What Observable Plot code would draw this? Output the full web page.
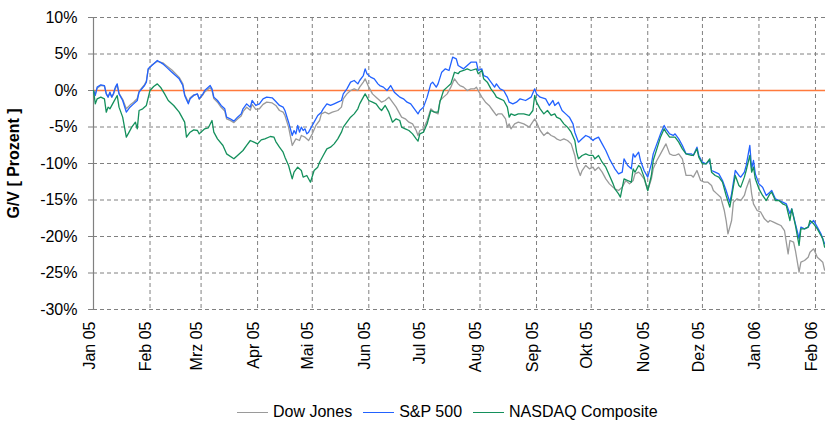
<!DOCTYPE html>
<html>
<head>
<meta charset="utf-8">
<script src="https://cdn.jsdelivr.net/npm/d3@7"></script>
<script src="https://cdn.jsdelivr.net/npm/@observablehq/plot@0.6"></script>
<style>
  body { margin: 0; background: #fff; font-family: "Liberation Sans", Arial, sans-serif; }
  #legend { display: flex; align-items: center; height: 20px; margin-top: 17px; padding-left: 237px; font-size: 16px; color: #000; }
  .sw { display: inline-block; width: 31px; height: 0; border-top: 1.5px solid; margin-right: 5px; }
  .it { display: flex; align-items: center; margin-right: 11px; }
</style>
</head>
<body>
<div id="chart"></div>
<div id="legend"></div>
<script>
const seriesNames = ["Dow Jones", "S&P 500", "NASDAQ Composite"];
const seriesColors = ["#9a9a9a", "#2262ff", "#14905c"];

const monthTicks = ["2005-01-01","2005-02-01","2005-03-01","2005-04-01","2005-05-01","2005-06-01","2005-07-01","2005-08-01","2005-09-01","2005-10-01","2005-11-01","2005-12-01","2006-01-01","2006-02-01"];
const monthLabels = ["Jan 05","Feb 05","Mrz 05","Apr 05","Mai 05","Jun 05","Jul 05","Aug 05","Sep 05","Okt 05","Nov 05","Dez 05","Jan 06","Feb 06"];
const yTicks = [-30, -25, -20, -15, -10, -5, 0, 5, 10];
const yLabel = "G/V [ Prozent ]";

const dowJones = [["2005-01-01",0],["2005-01-02",-0.5],["2005-01-03",0.3],["2005-01-05",0.7],["2005-01-07",0.6],["2005-01-08",-0.4],["2005-01-09",-0.9],["2005-01-10",-0.3],["2005-01-11",-0.9],["2005-01-12",-0.5],["2005-01-13",0.3],["2005-01-14",0.7],["2005-01-15",-0.4],["2005-01-17",-1.2],["2005-01-19",-2.5],["2005-01-21",-2.0],["2005-01-23",-1.6],["2005-01-25",-1.1],["2005-01-26",-0.1],["2005-01-29",0.8],["2005-01-30",1.3],["2005-01-31",2.9],["2005-02-02",3.5],["2005-02-05",4.0],["2005-02-08",3.8],["2005-02-10",3.4],["2005-02-13",2.8],["2005-02-15",2.3],["2005-02-17",1.8],["2005-02-19",0.9],["2005-02-20",-0.5],["2005-02-22",-1.6],["2005-02-23",-1.0],["2005-02-25",-0.6],["2005-02-27",-0.5],["2005-02-28",-1.2],["2005-03-02",-0.6],["2005-03-03",-0.2],["2005-03-06",0.4],["2005-03-07",0],["2005-03-08",-1.1],["2005-03-10",-1.6],["2005-03-12",-2.3],["2005-03-14",-2.8],["2005-03-15",-3.9],["2005-03-17",-4.1],["2005-03-19",-4.4],["2005-03-21",-3.9],["2005-03-23",-3.5],["2005-03-24",-2.9],["2005-03-26",-2.3],["2005-03-28",-2.7],["2005-03-29",-1.9],["2005-03-31",-2.6],["2005-04-02",-2.5],["2005-04-04",-1.9],["2005-04-06",-1.6],["2005-04-09",-1.7],["2005-04-11",-2.05],["2005-04-13",-2.74],["2005-04-15",-2.97],["2005-04-16",-3.42],["2005-04-18",-5.02],["2005-04-20",-7.53],["2005-04-22",-6.62],["2005-04-24",-6.85],["2005-04-25",-6.16],["2005-04-27",-6.39],["2005-04-29",-6.85],["2005-05-01",-5.94],["2005-05-03",-4.79],["2005-05-05",-4.11],["2005-05-06",-3.20],["2005-05-08",-2.97],["2005-05-10",-3.20],["2005-05-12",-2.97],["2005-05-15",-2.74],["2005-05-17",-2.28],["2005-05-18",-1.14],["2005-05-20",-0.46],["2005-05-22",0],["2005-05-24",0.23],["2005-05-26",0],["2005-05-27",0.46],["2005-05-29",1.14],["2005-05-30",1.60],["2005-06-01",0.46],["2005-06-03",-0.46],["2005-06-05",-0.91],["2005-06-07",-1.37],["2005-06-08",-1.60],["2005-06-10",-1.37],["2005-06-12",-0.91],["2005-06-14",-1.60],["2005-06-16",-2.28],["2005-06-18",-3.20],["2005-06-19",-3.65],["2005-06-21",-3.88],["2005-06-23",-4.34],["2005-06-25",-4.57],["2005-06-27",-5.48],["2005-06-28",-6.16],["2005-06-29",-5.48],["2005-07-01",-5.25],["2005-07-03",-4.11],["2005-07-05",-2.51],["2005-07-07",-2.97],["2005-07-09",-3.20],["2005-07-10",-1.37],["2005-07-12",-0.91],["2005-07-14",-0.46],["2005-07-16",0.46],["2005-07-18",1.60],["2005-07-20",0.91],["2005-07-21",0.68],["2005-07-23",0.46],["2005-07-25",0],["2005-07-27",0.23],["2005-07-29",0.23],["2005-07-30",0.46],["2005-07-31",0],["2005-08-02",-0.91],["2005-08-04",-1.60],["2005-08-06",-2.05],["2005-08-08",-2.74],["2005-08-10",-3.42],["2005-08-11",-3.20],["2005-08-13",-3.20],["2005-08-15",-3.88],["2005-08-16",-5.02],["2005-08-17",-4.57],["2005-08-18",-5.25],["2005-08-20",-4.57],["2005-08-22",-4.34],["2005-08-25",-4.57],["2005-08-28",-5.02],["2005-08-31",-3.88],["2005-09-01",-4.34],["2005-09-03",-5.48],["2005-09-05",-6.16],["2005-09-07",-5.71],["2005-09-09",-6.16],["2005-09-11",-6.39],["2005-09-12",-6.62],["2005-09-14",-6.85],["2005-09-16",-6.62],["2005-09-18",-6.85],["2005-09-20",-7.31],["2005-09-22",-8.90],["2005-09-23",-10.27],["2005-09-25",-11.64],["2005-09-26",-10.96],["2005-09-28",-10.27],["2005-09-30",-10.73],["2005-10-02",-10.50],["2005-10-03",-10.96],["2005-10-05",-10.50],["2005-10-07",-11.19],["2005-10-09",-12.10],["2005-10-11",-12.79],["2005-10-13",-13.24],["2005-10-14",-13.47],["2005-10-16",-13.70],["2005-10-18",-13.24],["2005-10-20",-12.33],["2005-10-22",-12.79],["2005-10-24",-12.33],["2005-10-25",-11.42],["2005-10-27",-11.19],["2005-10-28",-11.42],["2005-10-30",-12.10],["2005-11-01",-13.70],["2005-11-03",-12.10],["2005-11-04",-10.73],["2005-11-06",-9.59],["2005-11-08",-8.68],["2005-11-10",-7.76],["2005-11-11",-7.31],["2005-11-13",-8.68],["2005-11-15",-8.90],["2005-11-16",-8.90],["2005-11-18",-8.68],["2005-11-20",-9.36],["2005-11-22",-11.64],["2005-11-25",-11.64],["2005-11-26",-11.87],["2005-11-28",-10.96],["2005-11-30",-12.33],["2005-12-02",-12.56],["2005-12-04",-12.56],["2005-12-06",-13.01],["2005-12-07",-13.70],["2005-12-09",-14.16],["2005-12-11",-14.61],["2005-12-13",-16.44],["2005-12-14",-17.81],["2005-12-15",-19.63],["2005-12-17",-17.81],["2005-12-18",-15.30],["2005-12-20",-14.84],["2005-12-22",-15.07],["2005-12-24",-14.38],["2005-12-25",-13.47],["2005-12-27",-12.10],["2005-12-28",-14.16],["2005-12-29",-15.53],["2005-12-31",-16.44],["2006-01-02",-16.67],["2006-01-04",-17.58],["2006-01-06",-18.04],["2006-01-07",-17.81],["2006-01-09",-18.04],["2006-01-11",-18.26],["2006-01-13",-18.49],["2006-01-15",-19.18],["2006-01-17",-22.37],["2006-01-18",-20.55],["2006-01-20",-20.78],["2006-01-21",-21.92],["2006-01-23",-24.89],["2006-01-24",-23.52],["2006-01-26",-23.29],["2006-01-28",-22.83],["2006-01-29",-22.15],["2006-01-31",-21.69],["2006-02-02",-22.83],["2006-02-04",-23.29],["2006-02-05",-23.52],["2006-02-06",-24.6]];

const sp500 = [["2005-01-01",0],["2005-01-02",-0.68],["2005-01-03",0.46],["2005-01-05",0.78],["2005-01-07",0.68],["2005-01-08",-0.46],["2005-01-09",-0.91],["2005-01-10",-0.23],["2005-01-11",-0.91],["2005-01-12",-0.37],["2005-01-13",0.46],["2005-01-14",0.91],["2005-01-15",-0.46],["2005-01-17",-1.37],["2005-01-19",-2.97],["2005-01-21",-2.28],["2005-01-23",-1.83],["2005-01-25",-1.37],["2005-01-26",-0.23],["2005-01-29",0.68],["2005-01-30",1.14],["2005-01-31",2.97],["2005-02-02",3.42],["2005-02-05",4.11],["2005-02-08",3.65],["2005-02-10",3.20],["2005-02-13",2.51],["2005-02-15",2.05],["2005-02-17",1.60],["2005-02-19",0.68],["2005-02-20",-0.68],["2005-02-22",-1.83],["2005-02-23",-1.14],["2005-02-25",-0.68],["2005-02-27",-0.46],["2005-02-28",-1.14],["2005-03-02",-0.46],["2005-03-03",0],["2005-03-06",0.68],["2005-03-07",0.23],["2005-03-08",-0.91],["2005-03-10",-1.37],["2005-03-12",-2.05],["2005-03-14",-2.51],["2005-03-15",-3.65],["2005-03-17",-3.88],["2005-03-19",-4.20],["2005-03-21",-3.65],["2005-03-23",-3.20],["2005-03-24",-2.51],["2005-03-26",-1.83],["2005-03-28",-2.28],["2005-03-29",-1.37],["2005-03-31",-2.05],["2005-04-02",-1.83],["2005-04-04",-1.14],["2005-04-06",-0.91],["2005-04-09",-1.00],["2005-04-11",-1.50],["2005-04-13",-2.05],["2005-04-15",-2.28],["2005-04-16",-2.74],["2005-04-18",-4.34],["2005-04-20",-6.16],["2005-04-21",-5.48],["2005-04-22",-5.94],["2005-04-23",-4.79],["2005-04-24",-5.71],["2005-04-25",-5.02],["2005-04-26",-5.48],["2005-04-27",-5.25],["2005-04-28",-5.94],["2005-04-29",-5.71],["2005-05-01",-4.79],["2005-05-02",-4.34],["2005-05-04",-3.42],["2005-05-06",-2.97],["2005-05-07",-2.51],["2005-05-09",-1.83],["2005-05-11",-2.05],["2005-05-13",-1.83],["2005-05-15",-1.60],["2005-05-17",-1.37],["2005-05-18",-0.46],["2005-05-20",0.23],["2005-05-22",1.14],["2005-05-24",1.37],["2005-05-26",0.91],["2005-05-27",1.37],["2005-05-29",2.05],["2005-05-30",2.97],["2005-05-31",2.28],["2005-06-02",1.83],["2005-06-04",1.60],["2005-06-06",0.91],["2005-06-07",0.68],["2005-06-09",0.46],["2005-06-11",0],["2005-06-13",0.68],["2005-06-15",-0.23],["2005-06-17",-0.68],["2005-06-18",-0.91],["2005-06-20",-1.14],["2005-06-22",-1.60],["2005-06-24",-1.83],["2005-06-26",-2.51],["2005-06-28",-3.20],["2005-06-29",-2.74],["2005-07-01",-2.28],["2005-07-03",-0.91],["2005-07-05",0.91],["2005-07-06",1.14],["2005-07-08",0.46],["2005-07-09",0.91],["2005-07-11",2.51],["2005-07-13",2.97],["2005-07-15",2.74],["2005-07-17",4.57],["2005-07-19",4.34],["2005-07-20",3.42],["2005-07-23",2.97],["2005-07-25",3.42],["2005-07-27",3.88],["2005-07-30",3.88],["2005-07-31",2.74],["2005-08-02",2.97],["2005-08-03",2.05],["2005-08-05",1.83],["2005-08-07",1.14],["2005-08-09",0.46],["2005-08-10",0.91],["2005-08-12",0.23],["2005-08-14",0],["2005-08-16",-0.91],["2005-08-17",-1.60],["2005-08-19",-1.83],["2005-08-21",-1.60],["2005-08-23",-1.14],["2005-08-26",-1.37],["2005-08-29",-0.91],["2005-08-31",0.23],["2005-09-01",-0.46],["2005-09-03",-0.91],["2005-09-06",-1.14],["2005-09-08",-2.05],["2005-09-10",-1.37],["2005-09-11",-2.05],["2005-09-13",-1.60],["2005-09-15",-2.74],["2005-09-17",-3.20],["2005-09-19",-3.65],["2005-09-21",-4.57],["2005-09-22",-5.71],["2005-09-24",-7.08],["2005-09-26",-6.62],["2005-09-28",-6.16],["2005-09-30",-6.39],["2005-10-02",-6.85],["2005-10-03",-6.62],["2005-10-05",-6.39],["2005-10-07",-7.31],["2005-10-09",-8.22],["2005-10-11",-9.36],["2005-10-13",-10.27],["2005-10-14",-10.73],["2005-10-16",-11.42],["2005-10-18",-11.19],["2005-10-19",-9.36],["2005-10-21",-10.27],["2005-10-23",-10.73],["2005-10-24",-8.68],["2005-10-25",-9.13],["2005-10-27",-8.45],["2005-10-28",-9.59],["2005-10-30",-10.96],["2005-11-01",-11.87],["2005-11-03",-10.05],["2005-11-04",-8.68],["2005-11-06",-7.31],["2005-11-08",-5.94],["2005-11-10",-4.79],["2005-11-11",-5.25],["2005-11-13",-5.94],["2005-11-15",-6.16],["2005-11-16",-5.94],["2005-11-18",-6.62],["2005-11-20",-7.53],["2005-11-22",-8.68],["2005-11-25",-8.68],["2005-11-26",-8.90],["2005-11-28",-7.76],["2005-11-29",-8.90],["2005-12-01",-9.82],["2005-12-03",-10.05],["2005-12-05",-9.59],["2005-12-06",-10.96],["2005-12-08",-11.19],["2005-12-10",-11.42],["2005-12-12",-12.33],["2005-12-14",-13.70],["2005-12-16",-15.30],["2005-12-17",-14.16],["2005-12-19",-10.96],["2005-12-21",-11.64],["2005-12-22",-11.87],["2005-12-24",-11.19],["2005-12-25",-10.27],["2005-12-27",-7.53],["2005-12-28",-10.73],["2005-12-29",-9.59],["2005-12-30",-11.42],["2006-01-01",-12.79],["2006-01-03",-13.24],["2006-01-05",-14.38],["2006-01-07",-13.93],["2006-01-08",-13.70],["2006-01-10",-14.84],["2006-01-12",-15.07],["2006-01-14",-15.30],["2006-01-16",-15.53],["2006-01-18",-16.89],["2006-01-19",-16.21],["2006-01-21",-18.26],["2006-01-23",-20.27],["2006-01-24",-18.72],["2006-01-26",-18.95],["2006-01-28",-18.72],["2006-01-29",-18.26],["2006-01-31",-17.81],["2006-02-02",-18.72],["2006-02-04",-19.63],["2006-02-06",-21.0]];

const nasdaq = [["2005-01-01",0],["2005-01-02",-1.83],["2005-01-03",-1.14],["2005-01-05",-0.91],["2005-01-07",-1.14],["2005-01-08",-2.97],["2005-01-09",-2.28],["2005-01-10",-2.51],["2005-01-12",-1.60],["2005-01-14",-0.68],["2005-01-15",-2.28],["2005-01-17",-3.65],["2005-01-19",-6.39],["2005-01-20",-5.94],["2005-01-22",-5.02],["2005-01-24",-4.34],["2005-01-25",-5.25],["2005-01-26",-2.74],["2005-01-28",-2.51],["2005-01-30",-2.05],["2005-02-01",0],["2005-02-03",0.55],["2005-02-05",0.91],["2005-02-07",0.37],["2005-02-09",-0.46],["2005-02-11",-1.37],["2005-02-14",-2.05],["2005-02-17",-2.97],["2005-02-20",-4.34],["2005-02-21",-6.39],["2005-02-23",-5.71],["2005-02-25",-5.39],["2005-02-27",-5.48],["2005-02-28",-5.94],["2005-03-03",-5.25],["2005-03-05",-5.11],["2005-03-07",-4.11],["2005-03-08",-5.71],["2005-03-10",-6.62],["2005-03-13",-7.53],["2005-03-15",-8.68],["2005-03-19",-9.36],["2005-03-21",-8.90],["2005-03-24",-8.22],["2005-03-26",-7.53],["2005-03-28",-6.85],["2005-03-30",-7.08],["2005-04-01",-7.31],["2005-04-03",-6.76],["2005-04-05",-6.62],["2005-04-08",-6.30],["2005-04-10",-6.39],["2005-04-11",-7.0],["2005-04-13",-7.76],["2005-04-15",-8.45],["2005-04-16",-9.13],["2005-04-18",-10.27],["2005-04-20",-12.10],["2005-04-21",-11.19],["2005-04-23",-10.50],["2005-04-25",-10.96],["2005-04-26",-11.87],["2005-04-28",-11.64],["2005-04-30",-12.56],["2005-05-02",-10.96],["2005-05-04",-10.50],["2005-05-05",-9.82],["2005-05-07",-8.90],["2005-05-09",-7.99],["2005-05-11",-7.76],["2005-05-13",-7.31],["2005-05-15",-6.62],["2005-05-17",-5.71],["2005-05-18",-5.02],["2005-05-20",-4.34],["2005-05-22",-3.65],["2005-05-24",-3.20],["2005-05-26",-2.51],["2005-05-27",-1.83],["2005-05-29",-0.91],["2005-05-30",-0.46],["2005-06-01",-1.37],["2005-06-03",-1.60],["2005-06-05",-1.83],["2005-06-07",-2.51],["2005-06-08",-2.74],["2005-06-10",-2.05],["2005-06-12",-2.97],["2005-06-14",-4.34],["2005-06-16",-3.88],["2005-06-18",-4.11],["2005-06-19",-5.02],["2005-06-21",-5.25],["2005-06-23",-5.48],["2005-06-25",-5.94],["2005-06-27",-6.62],["2005-06-28",-6.94],["2005-06-29",-5.94],["2005-07-01",-5.71],["2005-07-03",-4.57],["2005-07-05",-2.74],["2005-07-07",-2.97],["2005-07-09",-2.97],["2005-07-10",-1.60],["2005-07-12",0],["2005-07-14",0.46],["2005-07-16",0.91],["2005-07-18",2.5],["2005-07-20",2.3],["2005-07-21",2.6],["2005-07-23",2.74],["2005-07-25",2.97],["2005-07-27",2.74],["2005-07-30",2.97],["2005-07-31",2.28],["2005-08-02",2.74],["2005-08-03",1.60],["2005-08-05",1.14],["2005-08-07",0.23],["2005-08-09",-0.46],["2005-08-10",-0.91],["2005-08-12",-1.14],["2005-08-14",-1.37],["2005-08-16",-2.28],["2005-08-17",-3.65],["2005-08-18",-3.20],["2005-08-20",-3.42],["2005-08-22",-3.20],["2005-08-25",-3.20],["2005-08-28",-3.42],["2005-08-30",-2.74],["2005-08-31",-0.68],["2005-09-01",-1.60],["2005-09-03",-2.51],["2005-09-05",-3.20],["2005-09-07",-2.74],["2005-09-09",-3.42],["2005-09-11",-3.20],["2005-09-12",-3.65],["2005-09-14",-3.88],["2005-09-16",-4.57],["2005-09-18",-5.02],["2005-09-20",-5.71],["2005-09-22",-6.85],["2005-09-23",-8.45],["2005-09-24",-9.36],["2005-09-26",-8.90],["2005-09-28",-8.68],["2005-09-30",-8.90],["2005-10-02",-8.90],["2005-10-03",-9.36],["2005-10-05",-8.90],["2005-10-07",-9.82],["2005-10-09",-10.50],["2005-10-11",-11.64],["2005-10-13",-12.79],["2005-10-14",-13.47],["2005-10-16",-14.16],["2005-10-17",-14.61],["2005-10-19",-12.10],["2005-10-21",-12.33],["2005-10-23",-12.56],["2005-10-24",-10.73],["2005-10-25",-11.19],["2005-10-27",-10.27],["2005-10-28",-10.50],["2005-10-30",-11.87],["2005-11-01",-13.70],["2005-11-03",-11.64],["2005-11-04",-9.59],["2005-11-06",-7.99],["2005-11-08",-6.39],["2005-11-10",-5.25],["2005-11-11",-5.71],["2005-11-13",-6.39],["2005-11-15",-6.39],["2005-11-16",-6.39],["2005-11-18",-7.08],["2005-11-20",-7.99],["2005-11-22",-8.68],["2005-11-25",-8.90],["2005-11-26",-8.90],["2005-11-28",-7.99],["2005-11-29",-9.13],["2005-12-01",-10.05],["2005-12-03",-10.05],["2005-12-05",-9.36],["2005-12-06",-11.19],["2005-12-08",-11.64],["2005-12-10",-11.87],["2005-12-12",-12.56],["2005-12-14",-14.38],["2005-12-16",-15.98],["2005-12-17",-14.61],["2005-12-19",-11.64],["2005-12-21",-13.01],["2005-12-22",-13.24],["2005-12-24",-11.87],["2005-12-25",-10.96],["2005-12-27",-8.90],["2005-12-28",-11.19],["2005-12-29",-10.50],["2005-12-30",-12.10],["2006-01-01",-13.47],["2006-01-03",-14.38],["2006-01-05",-15.07],["2006-01-07",-14.16],["2006-01-08",-13.93],["2006-01-10",-15.07],["2006-01-12",-15.07],["2006-01-14",-15.53],["2006-01-16",-15.75],["2006-01-18",-17.81],["2006-01-19",-16.21],["2006-01-21",-18.49],["2006-01-23",-21.23],["2006-01-24",-18.95],["2006-01-26",-18.95],["2006-01-28",-18.72],["2006-01-29",-17.81],["2006-01-31",-18.26],["2006-02-02",-18.95],["2006-02-04",-19.86],["2006-02-05",-20.32],["2006-02-06",-21.46]];

const xStart = "2005-01-01";
const xEnd = "2006-02-06T12:00Z";

// Build table for Plot
const rows = [];
[dowJones, sp500, nasdaq].forEach((arr, k) => {
  arr.forEach(([d, v]) => rows.push({date: new Date(d), value: v, series: seriesNames[k]}));
});
const tickDates = monthTicks.map(d => new Date(d));
const labelByTime = new Map(tickDates.map((d, i) => [+d, monthLabels[i]]));

const gridStyle = {stroke: "#808080", strokeOpacity: 1, strokeDasharray: "4,3", strokeWidth: 1};

const chart = Plot.plot({
  width: 825,
  height: 385,
  marginLeft: 93,
  marginRight: 0,
  marginTop: 17,
  marginBottom: 76,
  style: {fontFamily: "'Liberation Sans', Arial, sans-serif", fontSize: "16px", color: "#000", background: "#fff"},
  x: {type: "utc", domain: [new Date(xStart), new Date(xEnd)]},
  y: {domain: [-30, 10]},
  color: {domain: seriesNames, range: seriesColors},
  marks: [
    Plot.gridY(yTicks, gridStyle),
    Plot.gridX(tickDates, gridStyle),
    Plot.ruleX([new Date(xStart)], {stroke: "#808080", strokeWidth: 1.2}),
    Plot.ruleY([0], {stroke: "#ff7a3c", strokeWidth: 1.6}),
    Plot.line(rows, {x: "date", y: "value", z: "series", stroke: "series", strokeWidth: 1.3, curve: "linear"}),
    Plot.axisY(yTicks, {tickFormat: d => d + "%", tickSize: 5, tickPadding: 11, stroke: "#808080", fill: "#000", fontSize: 16, label: null}),
    Plot.axisX(tickDates, {tickFormat: d => labelByTime.get(+d), tickRotate: -90, tickSize: 0, tickPadding: 12, fill: "#000", fontSize: 16, label: null, dx: -4}),
    Plot.text([yLabel], {frameAnchor: "left", dx: -80, rotate: -90, textAnchor: "middle", fontWeight: "bold", fontSize: 16, fill: "#000"})
  ]
});
document.getElementById("chart").appendChild(chart);

const legend = document.getElementById("legend");
seriesNames.forEach((name, i) => {
  const it = document.createElement("span");
  it.className = "it";
  const sw = document.createElement("span");
  sw.className = "sw";
  sw.style.borderTopColor = seriesColors[i];
  it.appendChild(sw);
  it.appendChild(document.createTextNode(name));
  legend.appendChild(it);
});
</script>
</body>
</html>
